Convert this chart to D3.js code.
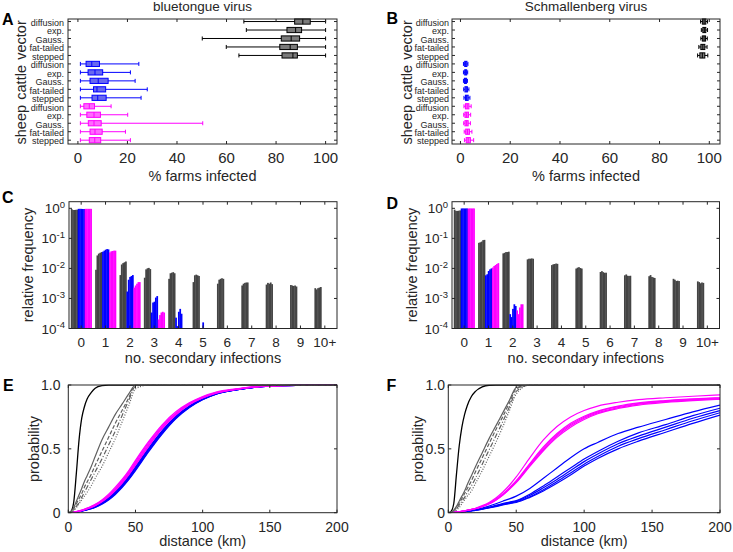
<!DOCTYPE html>
<html><head><meta charset="utf-8">
<script src="https://cdn.jsdelivr.net/npm/d3@7"></script>
<style>
body{margin:0;background:#fff}
svg{display:block}
text{font-family:"Liberation Sans",Arial,Helvetica,sans-serif;fill:#262626}
</style>
</head><body>
<svg id="c" width="733" height="552"></svg>
<script>
// ---------------- DATA ----------------
const hosts = ["vector", "cattle", "sheep"];
const kernels = ["diffusion", "exp.", "Gauss.", "fat-tailed", "stepped"];

// Box statistics per row (vector x5, cattle x5, sheep x5): [whiskerLow, q1, median, q3, whiskerHigh] in % farms infected
const btBoxStats = [
  [67, 87.5, 90.8, 93.8, 100],
  [68, 84.4, 87.9, 90.3, 100],
  [50.2, 82.1, 86.1, 89.5, 100],
  [59.9, 81.5, 85.7, 88.6, 100],
  [65, 82.4, 86.8, 88.6, 100],
  [1, 3.3, 5.6, 8.7, 24.6],
  [1, 4.1, 6.9, 10.0, 21.2],
  [1, 4.9, 8.2, 12.2, 23.1],
  [1, 6.3, 7.7, 11.2, 28],
  [1, 5.7, 8.0, 11.4, 25.5],
  [1, 2.4, 4.6, 6.7, 13.4],
  [1, 3.6, 6.5, 9.1, 20.1],
  [1, 4.2, 6.5, 9.4, 50.4],
  [1, 4.9, 6.9, 9.8, 19.2],
  [1, 4.6, 6.8, 9.2, 21.2]
];
const sbvBoxStats = [
  [96.5, 97.2, 97.9, 98.6, 99.3],
  [96.8, 97.4, 98.0, 98.6, 99.3],
  [96.6, 97.2, 97.9, 98.5, 99.2],
  [95.8, 96.6, 97.4, 98.2, 99.1],
  [95.3, 96.2, 97.2, 98.2, 99.4],
  [1.2, 1.7, 2.1, 2.6, 3.0],
  [1.2, 1.7, 2.1, 2.5, 2.9],
  [1.2, 1.6, 2.0, 2.4, 2.8],
  [1.3, 1.8, 2.3, 2.8, 3.4],
  [1.4, 2.0, 2.5, 3.1, 3.8],
  [1.4, 2.0, 2.7, 3.4, 4.3],
  [1.3, 1.8, 2.5, 3.2, 4.1],
  [1.3, 1.8, 2.5, 3.1, 4.0],
  [1.5, 2.1, 2.8, 3.6, 4.6],
  [1.6, 2.3, 3.1, 4.0, 5.3]
];
const boxTicks = [0, 20, 40, 60, 80, 100];

// Secondary infections: categories and relative frequency per kernel (5 values per category)
const secCategories = ["0", "1", "2", "3", "4", "5", "6", "7", "8", "9", "10+"];
const btVectorFreq = [
  [0.95, 0.88, 0.88, 0.89, 0.9],
  [0.009, 0.027, 0.031, 0.033, 0.035],
  [0.006, 0.0135, 0.015, 0.016, 0.017],
  [0.0049, 0.0093, 0.0101, 0.0104, 0.0095],
  [0.0045, 0.0069, 0.0072, 0.0075, 0.0069],
  [0.0035, 0.0059, 0.0062, 0.0059, 0.0056],
  [0.0031, 0.0042, 0.0045, 0.0047, 0.0045],
  [0.0027, 0.0031, 0.0033, 0.0034, 0.0034],
  [0.0029, 0.0033, 0.0031, 0.0034, 0.003],
  [0.0028, 0.0027, 0.0026, 0.0027, 0.0025],
  [0.0022, 0.002, 0.0022, 0.0023, 0.0024]
];
const btCattleFreq = [
  [0.96, 0.96, 0.96, 0.95, 0.95],
  [0.036, 0.039, 0.042, 0.044, 0.043],
  [0.0017, 0.0042, 0.0052, 0.0056, 0.006],
  [0.00034, 0.00073, 0.00078, 0.00107, 0.0012],
  [0.00023, 0.00012, 0.00036, 0.00045, 0.00031],
  [0, 0, 0.00016, 0, 0],
  [0, 0, 0, 0, 0], [0, 0, 0, 0, 0], [0, 0, 0, 0, 0], [0, 0, 0, 0, 0], [0, 0, 0, 0, 0]
];
const btSheepFreq = [
  [0.96, 0.96, 0.96, 0.96, 0.96],
  [0.034, 0.037, 0.038, 0.039, 0.039],
  [0.0023, 0.0027, 0.0031, 0.0035, 0.0035],
  [0.0002, 0.00028, 0.00034, 0.00036, 0.00034],
  [0, 0, 0, 0, 0], [0, 0, 0, 0, 0], [0, 0, 0, 0, 0], [0, 0, 0, 0, 0],
  [0, 0, 0, 0, 0], [0, 0, 0, 0, 0], [0, 0, 0, 0, 0]
];
const sbvVectorFreq = [
  [0.9, 0.82, 0.82, 0.83, 0.85],
  [0.071, 0.074, 0.078, 0.087, 0.089],
  [0.0316, 0.033, 0.035, 0.035, 0.036],
  [0.02, 0.021, 0.021, 0.0215, 0.021],
  [0.0129, 0.0137, 0.014, 0.0145, 0.0142],
  [0.0099, 0.0106, 0.011, 0.0103, 0.0099],
  [0.0076, 0.0081, 0.0075, 0.0071, 0.0072],
  [0.0059, 0.0063, 0.0057, 0.0056, 0.0057],
  [0.0055, 0.006, 0.0052, 0.005, 0.0048],
  [0.0045, 0.0042, 0.0038, 0.0039, 0.0038],
  [0.0037, 0.0035, 0.0032, 0.0034, 0.0033]
];
const sbvCattleFreq = [
  [0.99, 0.99, 0.99, 0.99, 0.99],
  [0.0059, 0.0064, 0.0082, 0.0093, 0.01],
  [0.0003, 0.00024, 0.00045, 0.00064, 0.00056],
  [0, 0, 0, 0, 0], [0, 0, 0, 0, 0], [0, 0, 0, 0, 0], [0, 0, 0, 0, 0],
  [0, 0, 0, 0, 0], [0, 0, 0, 0, 0], [0, 0, 0, 0, 0], [0, 0, 0, 0, 0]
];
const sbvSheepFreq = [
  [0.99, 0.99, 0.99, 0.99, 0.99],
  [0.0107, 0.012, 0.013, 0.014, 0.015],
  [0.0004, 0.0003, 0.0005, 0.00064, 0.00064],
  [0, 0, 0, 0, 0], [0, 0, 0, 0, 0], [0, 0, 0, 0, 0], [0, 0, 0, 0, 0],
  [0, 0, 0, 0, 0], [0, 0, 0, 0, 0], [0, 0, 0, 0, 0], [0, 0, 0, 0, 0]
];
const logTicks = [1e-4, 1e-3, 1e-2, 1e-1, 1];
const logTickExp = ["-4", "-3", "-2", "-1", "0"];

// Transmission distance CDFs
const distKm = [0, 2, 4, 6, 8, 10, 12, 14, 17, 20, 25, 30, 35, 40, 45, 50, 60, 70, 80, 90, 100, 110, 125, 140, 160, 180, 200];
const btVectorCdf = [
  [0,0.01,0.08,0.31,0.57,0.74,0.83,0.89,0.94,0.975,0.995,1,1,1,1,1,1,1,1,1,1,1,1,1,1,1,1],
  [0,0.01,0.04,0.09,0.14,0.19,0.245,0.29,0.36,0.44,0.57,0.67,0.77,0.85,0.93,1,1,1,1,1,1,1,1,1,1,1,1],
  [0,0.005,0.03,0.07,0.11,0.15,0.2,0.24,0.3,0.37,0.48,0.59,0.7,0.8,0.9,1,1,1,1,1,1,1,1,1,1,1,1],
  [0,0.003,0.02,0.05,0.08,0.12,0.16,0.2,0.26,0.32,0.42,0.53,0.64,0.76,0.88,0.99,1,1,1,1,1,1,1,1,1,1,1],
  [0,0.002,0.015,0.04,0.07,0.1,0.13,0.16,0.21,0.27,0.36,0.47,0.58,0.71,0.84,0.97,1,1,1,1,1,1,1,1,1,1,1]
];
const btCattleCdf = [
  [0,0.001,0.003,0.006,0.01,0.015,0.021,0.027,0.038,0.05,0.08,0.117,0.165,0.222,0.287,0.36,0.51,0.645,0.755,0.835,0.893,0.932,0.964,0.984,0.995,0.999,1],
  [0,0.001,0.003,0.006,0.009,0.014,0.02,0.026,0.036,0.048,0.076,0.112,0.158,0.215,0.279,0.352,0.502,0.638,0.75,0.832,0.89,0.931,0.963,0.984,0.995,0.999,1],
  [0,0,0.003,0.005,0.009,0.013,0.019,0.025,0.034,0.046,0.073,0.108,0.153,0.208,0.272,0.345,0.495,0.632,0.745,0.828,0.888,0.93,0.962,0.983,0.994,0.999,1],
  [0,0,0.002,0.005,0.008,0.012,0.018,0.023,0.032,0.044,0.07,0.104,0.148,0.202,0.265,0.337,0.487,0.625,0.74,0.825,0.886,0.929,0.962,0.983,0.994,0.999,1],
  [0,0,0.002,0.004,0.008,0.012,0.017,0.022,0.031,0.042,0.067,0.1,0.143,0.196,0.258,0.33,0.48,0.618,0.735,0.822,0.884,0.928,0.961,0.983,0.994,0.999,1]
];
const btSheepCdf = [
  [0,0.001,0.005,0.009,0.014,0.02,0.028,0.036,0.05,0.065,0.1,0.145,0.2,0.26,0.33,0.41,0.56,0.69,0.79,0.86,0.91,0.945,0.97,0.988,0.996,0.999,1],
  [0,0.001,0.004,0.008,0.013,0.019,0.026,0.034,0.047,0.062,0.095,0.138,0.19,0.25,0.32,0.4,0.55,0.68,0.78,0.855,0.905,0.94,0.968,0.987,0.996,0.999,1],
  [0,0.001,0.004,0.008,0.012,0.018,0.025,0.032,0.045,0.059,0.091,0.132,0.183,0.243,0.31,0.39,0.54,0.67,0.775,0.85,0.9,0.938,0.967,0.986,0.995,0.999,1],
  [0,0.001,0.004,0.007,0.012,0.017,0.024,0.031,0.043,0.057,0.088,0.128,0.178,0.237,0.303,0.38,0.53,0.665,0.77,0.847,0.9,0.937,0.966,0.986,0.995,0.999,1],
  [0,0.001,0.003,0.007,0.011,0.016,0.023,0.03,0.041,0.055,0.085,0.124,0.173,0.23,0.296,0.372,0.522,0.66,0.765,0.845,0.898,0.936,0.966,0.985,0.995,0.999,1]
];
const sbvVectorCdf = [
  [0,0.01,0.07,0.3,0.52,0.67,0.77,0.84,0.91,0.95,0.985,0.998,1,1,1,1,1,1,1,1,1,1,1,1,1,1,1],
  [0,0.005,0.02,0.05,0.09,0.13,0.17,0.22,0.29,0.36,0.47,0.58,0.68,0.78,0.88,0.98,1,1,1,1,1,1,1,1,1,1,1],
  [0,0.004,0.016,0.04,0.075,0.11,0.15,0.19,0.25,0.32,0.43,0.54,0.65,0.75,0.86,0.97,1,1,1,1,1,1,1,1,1,1,1],
  [0,0.003,0.012,0.03,0.06,0.09,0.12,0.16,0.21,0.27,0.38,0.49,0.6,0.71,0.83,0.95,1,1,1,1,1,1,1,1,1,1,1],
  [0,0.002,0.008,0.02,0.04,0.07,0.1,0.13,0.17,0.23,0.33,0.44,0.55,0.67,0.8,0.93,1,1,1,1,1,1,1,1,1,1,1]
];
const sbvCattleCdf = [
  [0,0,0.002,0.004,0.006,0.008,0.011,0.014,0.019,0.025,0.037,0.052,0.07,0.09,0.108,0.13,0.19,0.27,0.35,0.43,0.5,0.55,0.62,0.67,0.73,0.79,0.843],
  [0,0,0.001,0.003,0.005,0.007,0.009,0.012,0.016,0.021,0.031,0.043,0.057,0.071,0.083,0.095,0.145,0.21,0.28,0.35,0.42,0.48,0.56,0.625,0.69,0.76,0.818],
  [0,0,0.001,0.003,0.005,0.007,0.009,0.012,0.016,0.02,0.03,0.041,0.054,0.067,0.079,0.09,0.135,0.195,0.26,0.33,0.4,0.46,0.54,0.6,0.67,0.74,0.8],
  [0,0,0.001,0.003,0.004,0.006,0.008,0.011,0.015,0.019,0.028,0.039,0.051,0.063,0.075,0.085,0.125,0.18,0.245,0.31,0.38,0.44,0.52,0.58,0.65,0.72,0.783],
  [0,0,0.001,0.002,0.004,0.006,0.008,0.01,0.014,0.018,0.027,0.037,0.048,0.06,0.071,0.08,0.12,0.17,0.23,0.295,0.365,0.425,0.5,0.56,0.63,0.7,0.765]
];
const sbvSheepCdf = [
  [0,0.001,0.003,0.005,0.008,0.012,0.016,0.02,0.027,0.035,0.055,0.08,0.115,0.16,0.215,0.28,0.43,0.57,0.675,0.75,0.8,0.835,0.865,0.885,0.9,0.912,0.922],
  [0,0.001,0.003,0.005,0.008,0.011,0.015,0.019,0.026,0.033,0.05,0.073,0.105,0.145,0.195,0.25,0.385,0.515,0.62,0.7,0.755,0.795,0.835,0.86,0.878,0.891,0.9],
  [0,0.001,0.003,0.005,0.008,0.011,0.015,0.019,0.026,0.033,0.05,0.072,0.103,0.142,0.191,0.245,0.378,0.505,0.61,0.69,0.748,0.79,0.83,0.855,0.875,0.888,0.898],
  [0,0.001,0.003,0.005,0.007,0.011,0.014,0.018,0.025,0.032,0.049,0.07,0.1,0.139,0.187,0.24,0.37,0.495,0.6,0.68,0.74,0.782,0.823,0.85,0.87,0.883,0.893],
  [0,0.001,0.003,0.005,0.007,0.01,0.014,0.018,0.024,0.031,0.047,0.068,0.098,0.136,0.183,0.235,0.362,0.485,0.59,0.67,0.73,0.775,0.816,0.843,0.864,0.878,0.888]
];
const distTicks = [0, 50, 100, 150, 200];
const probTicks = [0, 0.5, 1];
const probTickLabels = ["0", "0.5", "1.0"];

// ---------------- STYLE ----------------
const AX = "#262626";
const hostColor = ["#000000", "#0000ff", "#ff00ff"];
const hostFill = ["#7a7a7a", "#6868f0", "#ff6aff"];
const barColor = ["#444444", "#0000ff", "#ff00ff"];
const vecStyles = [
  {c: "#000000", dash: null, w: 1.3},
  {c: "#606060", dash: null, w: 1.2},
  {c: "#606060", dash: "4,2", w: 1.2},
  {c: "#606060", dash: "5,2,1,2", w: 1.2},
  {c: "#606060", dash: "1,1.6", w: 1.2}
];

const svg = d3.select("#c");

function frame(g, x, y, xt, yt, len) {
  const [x0, x1] = x.range();
  const ys = y.range();
  const yTop = Math.min(ys[0], ys[1]), yBot = Math.max(ys[0], ys[1]);
  xt.forEach(v => {
    g.append("line").attr("x1", x(v)).attr("x2", x(v)).attr("y1", yBot).attr("y2", yBot - len).attr("stroke", AX);
    g.append("line").attr("x1", x(v)).attr("x2", x(v)).attr("y1", yTop).attr("y2", yTop + len).attr("stroke", AX);
  });
  yt.forEach(v => {
    g.append("line").attr("x1", x0).attr("x2", x0 + len).attr("y1", y(v)).attr("y2", y(v)).attr("stroke", AX);
    g.append("line").attr("x1", x1).attr("x2", x1 - len).attr("y1", y(v)).attr("y2", y(v)).attr("stroke", AX);
  });
  g.append("rect").attr("x", x0).attr("y", yTop).attr("width", x1 - x0).attr("height", yBot - yTop)
    .attr("fill", "none").attr("stroke", AX).attr("stroke-width", 1);
}

function letter(txt, x, y) {
  svg.append("text").attr("x", x).attr("y", y).attr("font-size", 16).attr("font-weight", "bold")
    .style("fill", "#000").text(txt);
}

// ---------------- BOX PANELS (A, B) ----------------
function boxPanel(o) {
  const g = svg.append("g");
  const x = d3.scaleLinear().domain(o.xdom).range([o.x0, o.x1]);
  const y = d3.scaleLinear().domain([0.7, 15.45]).range([19, 144]);
  const rowIdx = d3.range(1, 16);
  o.data.forEach((s, i) => {
    const h = Math.floor(i / 5), yy = y(i + 1);
    const col = hostColor[h];
    g.append("line").attr("x1", x(s[0])).attr("x2", x(s[4])).attr("y1", yy).attr("y2", yy)
      .attr("stroke", col).attr("stroke-width", 1);
    [s[0], s[4]].forEach(v => g.append("line").attr("x1", x(v)).attr("x2", x(v))
      .attr("y1", yy - 2).attr("y2", yy + 2).attr("stroke", col).attr("stroke-width", 1));
    g.append("rect").attr("x", x(s[1])).attr("y", yy - 2.6).attr("width", x(s[3]) - x(s[1])).attr("height", 5.2)
      .attr("fill", hostFill[h]).attr("stroke", col).attr("stroke-width", 1);
    g.append("line").attr("x1", x(s[2])).attr("x2", x(s[2])).attr("y1", yy - 2.6).attr("y2", yy + 2.6)
      .attr("stroke", col).attr("stroke-width", 1);
    g.append("text").attr("x", o.labelX).attr("y", yy + 4.3).attr("text-anchor", "end")
      .attr("font-size", 9).text(kernels[i % 5]);
  });
  hosts.forEach((hn, h) => {
    const cy = y(h * 5 + 3) + 1.5;
    g.append("text").attr("transform", `translate(${o.groupX},${cy}) rotate(-90)`)
      .attr("text-anchor", "middle").attr("font-size", 14.5).text(hn);
  });
  frame(g, x, y, boxTicks, rowIdx, 3);
  boxTicks.forEach(v => g.append("text").attr("x", x(v)).attr("y", 162.5).attr("text-anchor", "middle")
    .attr("font-size", 15).text(v));
  const cx = (o.x0 + o.x1) / 2;
  g.append("text").attr("x", cx).attr("y", 180.5).attr("text-anchor", "middle").attr("font-size", 14.5).text("% farms infected");
  g.append("text").attr("x", cx).attr("y", 10.5).attr("text-anchor", "middle").attr("font-size", 13.5).text(o.title);
}

boxPanel({data: btBoxStats, xdom: [-4, 104.6], x0: 68, x1: 337, labelX: 64, groupX: 25.5, title: "bluetongue virus"});
boxPanel({data: sbvBoxStats, xdom: [-3.4, 104.3], x0: 452, x1: 720, labelX: 449, groupX: 411.5, title: "Schmallenberg virus"});
letter("A", 2, 25);
letter("B", 386.5, 24);

// ---------------- BAR PANELS (C, D) ----------------
function barPanel(o) {
  const g = svg.append("g");
  const x = d3.scaleLinear().domain([-0.5, 10.5]).range([o.x0, o.x1]);
  const y = d3.scaleLog().domain([1e-4, 1.66]).range([328.5, 201.7]);
  const bw = 0.057;
  const sets = [o.vec, o.cat, o.shp];
  sets.forEach((set, h) => {
    set.forEach((vals, c) => {
      vals.forEach((v, k) => {
        if (!(v > 1e-4)) return;
        const j = h * 5 + k;
        const xl = x(c + (j - 7.5) * bw);
        g.append("rect").attr("x", xl).attr("width", x(bw) - x(0) + 0.35)
          .attr("y", y(v)).attr("height", y(1e-4) - y(v)).attr("fill", barColor[h]);
      });
    });
  });
  frame(g, x, y, d3.range(0, 11), logTicks, 3);
  secCategories.forEach((lab, c) => g.append("text").attr("x", x(c)).attr("y", 346.5)
    .attr("text-anchor", "middle").attr("font-size", 13.5).text(lab));
  logTicks.forEach((v, i) => {
    const t = g.append("text").attr("x", o.x0 - 4).attr("y", y(v) + 5).attr("text-anchor", "end").attr("font-size", 13.5);
    t.append("tspan").text("10");
    t.append("tspan").attr("dy", -5.5).attr("font-size", 9.5).text(logTickExp[i]);
  });
  const cx = (o.x0 + o.x1) / 2;
  g.append("text").attr("x", cx).attr("y", 362.5).attr("text-anchor", "middle").attr("font-size", 14.5).text("no. secondary infections");
  g.append("text").attr("transform", `translate(${o.ylabX},265) rotate(-90)`).attr("text-anchor", "middle")
    .attr("font-size", 14.5).text("relative frequency");
}
barPanel({vec: btVectorFreq, cat: btCattleFreq, shp: btSheepFreq, x0: 69, x1: 337, ylabX: 33});
barPanel({vec: sbvVectorFreq, cat: sbvCattleFreq, shp: sbvSheepFreq, x0: 452, x1: 719.5, ylabX: 417});
letter("C", 2, 203);
letter("D", 386.5, 209);

// ---------------- CDF PANELS (E, F) ----------------
function cdfPanel(o, id) {
  const g = svg.append("g");
  const x = d3.scaleLinear().domain([0, 200]).range([o.x0, o.x1]);
  const y = d3.scaleLinear().domain([0, 1]).range([512.7, 385]);
  svg.append("clipPath").attr("id", id).append("rect").attr("x", o.x0).attr("y", 384.5)
    .attr("width", o.x1 - o.x0).attr("height", 128.5);
  const line = d3.line().x((d, i) => x(distKm[i])).y(d => y(d)).curve(d3.curveMonotoneX);
  const lg = g.append("g").attr("clip-path", `url(#${id})`);
  o.cat.forEach(vals => lg.append("path").attr("d", line(vals)).attr("fill", "none")
    .attr("stroke", "#0000ff").attr("stroke-width", 1.2));
  o.shp.forEach(vals => lg.append("path").attr("d", line(vals)).attr("fill", "none")
    .attr("stroke", "#ff00ff").attr("stroke-width", 1.2));
  o.vec.forEach((vals, k) => {
    const st = vecStyles[k];
    const p = lg.append("path").attr("d", line(vals)).attr("fill", "none")
      .attr("stroke", st.c).attr("stroke-width", st.w);
    if (st.dash) p.attr("stroke-dasharray", st.dash);
  });
  frame(g, x, y, distTicks, probTicks, 3);
  distTicks.forEach(v => g.append("text").attr("x", x(v)).attr("y", 531.5).attr("text-anchor", "middle")
    .attr("font-size", 14).text(v));
  probTicks.forEach((v, i) => g.append("text").attr("x", o.ytx).attr("y", y(v) + 5).attr("text-anchor", "end")
    .attr("font-size", 14).text(probTickLabels[i]));
  const cx = (o.x0 + o.x1) / 2;
  g.append("text").attr("x", cx).attr("y", 546).attr("text-anchor", "middle").attr("font-size", 14.5).text("distance (km)");
  g.append("text").attr("transform", `translate(${o.ylabX},449) rotate(-90)`).attr("text-anchor", "middle")
    .attr("font-size", 14.5).text("probability");
}
cdfPanel({vec: btVectorCdf, cat: btCattleCdf, shp: btSheepCdf, x0: 68.3, x1: 337, ytx: 60.5, ylabX: 38.5}, "clipE");
cdfPanel({vec: sbvVectorCdf, cat: sbvCattleCdf, shp: sbvSheepCdf, x0: 448.3, x1: 720, ytx: 445, ylabX: 423}, "clipF");
letter("E", 3, 391);
letter("F", 386.5, 391);
</script>
</body></html>
